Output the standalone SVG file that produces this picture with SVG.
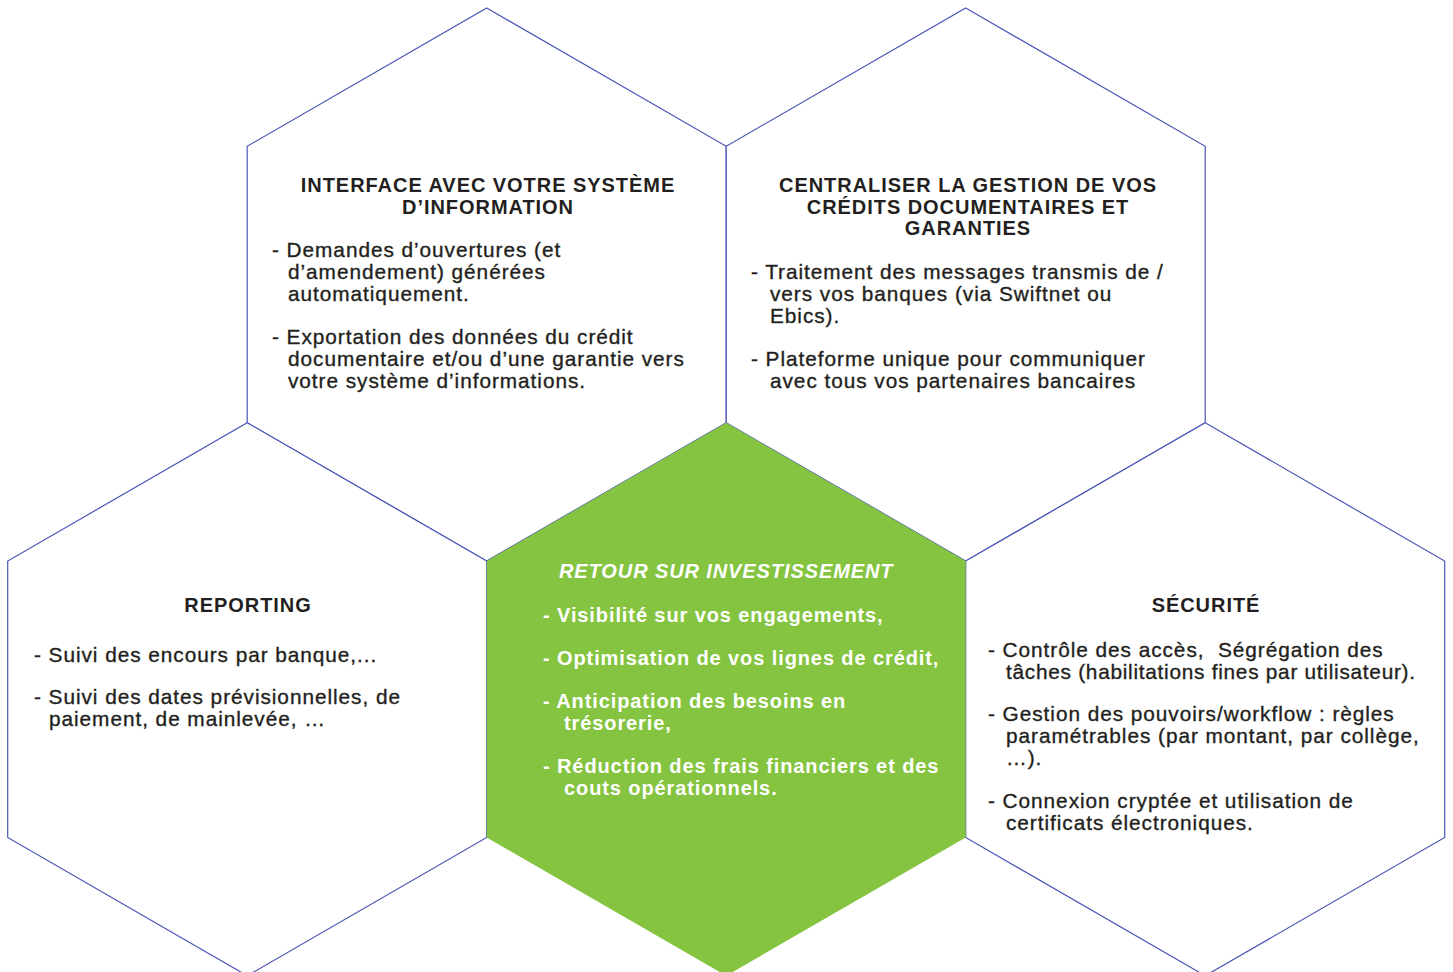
<svg xmlns="http://www.w3.org/2000/svg" width="1453" height="972" viewBox="0 0 1453 972">
<style>
.hex{fill:#ffffff;stroke:#4b56b6;stroke-width:1.2;stroke-linejoin:miter}
.green{fill:#85c441;stroke:none}
text{font-family:"Liberation Sans",Arial,Helvetica,sans-serif;font-size:20px;white-space:pre}
.t{font-weight:bold;fill:#231f20;letter-spacing:0.95px;text-anchor:middle}
.b{fill:#231f20;font-size:20.8px;letter-spacing:0.95px;stroke:#231f20;stroke-width:0.35}
.gt{font-weight:bold;font-style:italic;fill:#ffffff;letter-spacing:0.9px}
.gb{font-weight:bold;fill:#ffffff;letter-spacing:0.9px}
</style>
<rect width="1453" height="972" fill="#ffffff"/>
<g id="hex-interface">
<polygon class="hex" points="486.7,8 726.2,146.25 726.2,422.75 486.7,561 247.2,422.75 247.2,146.25"/>
<text class="t" x="488" y="192">INTERFACE AVEC VOTRE SYSTÈME</text>
<text class="t" x="488" y="214">D’INFORMATION</text>
<text class="b" x="272" y="257">- Demandes d’ouvertures (et</text>
<text class="b" x="288" y="279">d’amendement) générées</text>
<text class="b" x="288" y="301">automatiquement.</text>
<text class="b" x="272" y="344">- Exportation des données du crédit</text>
<text class="b" x="288" y="366">documentaire et/ou d’une garantie vers</text>
<text class="b" x="288" y="388">votre système d’informations.</text>
</g>
<g id="hex-centraliser">
<polygon class="hex" points="965.7,8 1205.2,146.25 1205.2,422.75 965.7,561 726.2,422.75 726.2,146.25"/>
<text class="t" x="968" y="192">CENTRALISER LA GESTION DE VOS</text>
<text class="t" x="968" y="214">CRÉDITS DOCUMENTAIRES ET</text>
<text class="t" x="968" y="235">GARANTIES</text>
<text class="b" x="751" y="279">- Traitement des messages transmis de /</text>
<text class="b" x="770" y="301">vers vos banques (via Swiftnet ou</text>
<text class="b" x="770" y="323">Ebics).</text>
<text class="b" x="751" y="366">- Plateforme unique pour communiquer</text>
<text class="b" x="770" y="388">avec tous vos partenaires bancaires</text>
</g>
<g id="hex-reporting">
<polygon class="hex" points="247.2,422.75 486.7,561 486.7,837.5 247.2,975.75 7.7,837.5 7.7,561"/>
<text class="t" x="248" y="612">REPORTING</text>
<text class="b" x="34" y="662">- Suivi des encours par banque,...</text>
<text class="b" x="34" y="704">- Suivi des dates prévisionnelles, de</text>
<text class="b" x="49" y="726">paiement, de mainlevée, …</text>
</g>
<g id="hex-securite">
<polygon class="hex" points="1205.2,422.75 1444.7,561 1444.7,837.5 1205.2,975.75 965.7,837.5 965.7,561"/>
<text class="t" x="1206" y="612">SÉCURITÉ</text>
<text class="b" x="988" y="657">- Contrôle des accès,  Ségrégation des</text>
<text class="b" x="1006" y="679" textLength="410" lengthAdjust="spacing">tâches (habilitations fines par utilisateur).</text>
<text class="b" x="988" y="721">- Gestion des pouvoirs/workflow : règles</text>
<text class="b" x="1006" y="743">paramétrables (par montant, par collège,</text>
<text class="b" x="1006" y="765">…).</text>
<text class="b" x="988" y="808">- Connexion cryptée et utilisation de</text>
<text class="b" x="1006" y="830">certificats électroniques.</text>
</g>
<g id="hex-retour">
<polygon class="green" points="726.2,422.75 965.7,561 965.7,837.5 726.2,975.75 486.7,837.5 486.7,561"/>
<text class="gt" x="559" y="578">RETOUR SUR INVESTISSEMENT</text>
<text class="gb" x="543" y="622">- Visibilité sur vos engagements,</text>
<text class="gb" x="543" y="665">- Optimisation de vos lignes de crédit,</text>
<text class="gb" x="543" y="708">- Anticipation des besoins en</text>
<text class="gb" x="564" y="730">trésorerie,</text>
<text class="gb" x="543" y="773">- Réduction des frais financiers et des</text>
<text class="gb" x="564" y="795">couts opérationnels.</text>
</g>
<g id="connectors"></g>
</svg>
